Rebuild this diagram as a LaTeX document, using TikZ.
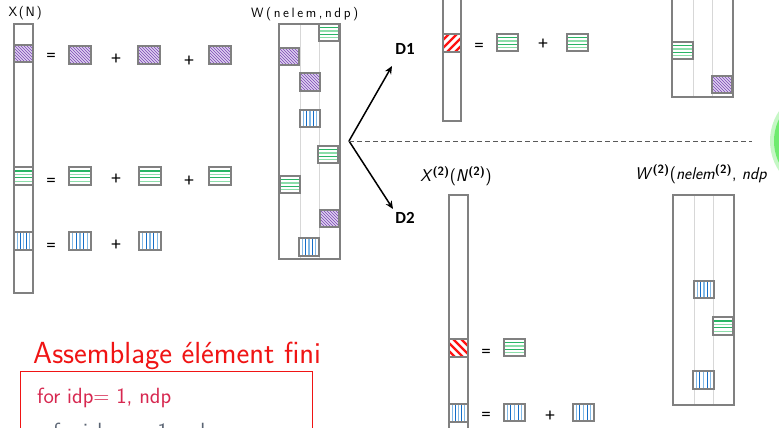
\documentclass[tikz,border=0pt]{standalone}
\usepackage{fontspec}
\newfontfamily\carlito{Carlito}
\usetikzlibrary{arrows.meta}
\def\lsptxt#1#2{\def\lspamt{#1}\lspstep#2\relax}
\def\lspstep#1{\ifx#1\relax\else#1\kern\lspamt\expandafter\lspstep\fi}
\definecolor{cellgray}{RGB}{128,128,128}
\definecolor{innergray}{RGB}{215,215,215}
\definecolor{purpline}{RGB}{140,95,190}
\definecolor{purpfill}{RGB}{236,228,248}
\definecolor{grdark}{RGB}{40,180,100}
\definecolor{grlight}{RGB}{140,222,170}
\definecolor{bldark}{RGB}{20,110,200}
\definecolor{bllight}{RGB}{130,185,230}
\definecolor{hatchred}{RGB}{255,20,20}
\definecolor{titlered}{RGB}{240,20,20}
\definecolor{codered}{RGB}{215,40,80}
\definecolor{codegray}{RGB}{90,100,115}
\definecolor{glowgreen}{RGB}{110,235,110}
\tikzset{
  cellborder/.style={draw=cellgray, line width=1.6pt},
  colborder/.style={draw=cellgray, line width=1.6pt},
  innerline/.style={draw=innergray, line width=0.8pt},
  optxt/.style={font=\carlito\fontsize{19}{21}\selectfont, inner sep=0pt},
  lbltxt/.style={font=\sffamily\fontsize{13.5}{15}\selectfont, inner sep=0pt},
  mlbltxt/.style={font=\sffamily\fontsize{17}{19}\selectfont, inner sep=0pt},
  dlbl/.style={font=\carlito\bfseries\fontsize{17}{20}\selectfont, inner sep=0pt},
  codetxt/.style={font=\sffamily\fontsize{22}{24}\selectfont, inner sep=0pt, anchor=base west},
  pics/purp/.style 2 args={code={
    \begin{scope}
      \clip (0,0) rectangle (#1,#2);
      \fill[purpfill] (0,0) rectangle (#1,#2);
      \foreach \i in {-21,-18,...,24} \draw[purpline, line width=0.8pt] (\i,0) -- ++(#2,#2);
    \end{scope}
    \draw[cellborder] (0,0) rectangle (#1,#2);
  }},
  pics/grn/.style 2 args={code={
    \fill[white] (0,0) rectangle (#1,#2);
    \draw[grdark, line width=1.1pt] (0,{0.22*#2}) -- (#1,{0.22*#2});
    \draw[grlight, line width=1.1pt] (0,{0.41*#2}) -- (#1,{0.41*#2});
    \draw[grdark, line width=1.1pt] (0,{0.6*#2}) -- (#1,{0.6*#2});
    \draw[grlight, line width=1.1pt] (0,{0.79*#2}) -- (#1,{0.79*#2});
    \draw[cellborder] (0,0) rectangle (#1,#2);
  }},
  pics/blu/.style 2 args={code={
    \fill[white] (0,0) rectangle (#1,#2);
    \foreach \f/\c in {0.17/bllight,0.33/bldark,0.5/bllight,0.67/bldark,0.83/bllight}
      \draw[\c, line width=1.1pt] ({\f*#1},0) -- ({\f*#1},#2);
    \draw[cellborder] (0,0) rectangle (#1,#2);
  }},
  pics/redf/.style 2 args={code={
    \begin{scope}
      \clip (0,0) rectangle (#1,#2);
      \fill[white] (0,0) rectangle (#1,#2);
      \foreach \i in {-20,-12,...,28} \draw[hatchred, line width=2.4pt] (\i,#2) -- ++(#2,-#2);
    \end{scope}
    \draw[cellborder] (0,0) rectangle (#1,#2);
  }},
  pics/redb/.style 2 args={code={
    \begin{scope}
      \clip (0,0) rectangle (#1,#2);
      \fill[white] (0,0) rectangle (#1,#2);
      \foreach \i in {-20,-12,...,28} \draw[hatchred, line width=2.4pt] (\i,0) -- ++(#2,#2);
    \end{scope}
    \draw[cellborder] (0,0) rectangle (#1,#2);
  }},
}
\begin{document}
\begin{tikzpicture}[x=1pt,y=-1pt]
\useasboundingbox (0,0) rectangle (779,428);
\fill[white] (0,0) rectangle (779,428);

% glow
\fill[glowgreen!40] (824,141) circle (54);
\fill[glowgreen] (824,141) circle (50);

% ---------- left: X(N)
\node[lbltxt] (lx) at (26,13) {\lsptxt{1.6pt}{X(N)}};
\draw[colborder] (14,24) rectangle (33,293);
\pic at (14,45) {purp={19}{17}};
\pic at (14,167) {grn={19}{18}};
\pic at (14,232) {blu={19}{18}};

\node[optxt] (e1) at (51,57) {=};
\pic at (69,46) {purp={22}{18}};
\node[optxt] (p1a) at (116,59) {+};
\pic at (138,46) {purp={22}{18}};
\node[optxt] (p1b) at (189,61) {+};
\pic at (209,46) {purp={22}{18}};

\node[optxt] (e2) at (51,182) {=};
\pic at (69,167) {grn={22}{18}};
\node[optxt] (p2a) at (116,179) {+};
\pic at (139,167) {grn={22}{18}};
\node[optxt] (p2b) at (189,181) {+};
\pic at (209,167) {grn={22}{18}};

\node[optxt] (e3) at (51,247) {=};
\pic at (69,232) {blu={22}{18}};
\node[optxt] (p3a) at (116,245) {+};
\pic at (139,232) {blu={22}{18}};

% ---------- W(nelem,ndp)
\node[lbltxt] (lw) at (306,14) {\lsptxt{2.6pt}{W(nelem,ndp)}};
\draw[colborder] (279,24) rectangle (340,259);
\draw[innerline] (300,25) -- (300,258);
\draw[innerline] (319,25) -- (319,258);
\pic at (319,24) {grn={20}{17}};
\pic at (279,48) {purp={20}{17}};
\pic at (300,73) {purp={20}{18}};
\pic at (300,110) {blu={20}{17}};
\pic at (318,146) {grn={20}{17}};
\pic at (280,176) {grn={20}{17}};
\pic at (320,210) {purp={19}{17}};
\pic at (299,238) {blu={20}{18}};

% ---------- arrows
\coordinate (o) at (349,141);
\coordinate (d1end) at (392,66);
\coordinate (d2end) at (393,209);
\coordinate (dashend) at (752,141);
\node[dlbl] (d1) at (405,49) {D1};
\node[dlbl] (d2) at (405,218) {D2};
\draw[line width=1.5pt, -{Stealth[length=8pt,width=7pt]}] (o) -- (d1end);
\draw[line width=1.5pt, -{Stealth[length=8pt,width=7pt]}] (o) -- (d2end);
\draw[cellgray!70!black, line width=1pt, dash pattern=on 5pt off 3pt] (o) -- (dashend);

% ---------- D1 part
\draw[colborder] (443,-10) rectangle (461,121);
\pic at (443,34) {redf={18}{18}};
\node[optxt] (e4) at (479,47) {=};
\pic at (497,34) {grn={21}{17}};
\node[optxt] (p4) at (543,44) {+};
\pic at (567,34) {grn={21}{17}};

\draw[colborder] (672,-10) rectangle (733,97);
\draw[innerline] (693,-10) -- (693,96);
\draw[innerline] (712,-10) -- (712,96);
\pic at (672,42) {grn={21}{17}};
\pic at (712,76) {purp={20}{17}};

% ---------- D2 part
\node[mlbltxt] (lx2) at (456,176) {\textit{X}\textsuperscript{\bfseries(2)}(\textit{N}\textsuperscript{\bfseries(2)})};
\draw[colborder] (449,195) rectangle (468,440);
\pic at (449,339) {redb={19}{18}};
\node[optxt] (e5) at (486,353) {=};
\pic at (504,339) {grn={21}{17}};
\pic at (449,404) {blu={19}{18}};
\node[optxt] (e6) at (486,416) {=};
\pic at (504,404) {blu={21}{17}};
\node[optxt] (p6) at (550,416) {+};
\pic at (573,404) {blu={21}{17}};

\node[mlbltxt, anchor=west] (lw2) at (635,174) {\textit{W}\textsuperscript{\bfseries(2)}(\textit{nelem}\textsuperscript{\bfseries(2)}, \textit{ndp}};
\draw[colborder] (673,195) rectangle (734,405);
\draw[innerline] (694,196) -- (694,404);
\draw[innerline] (713,196) -- (713,404);
\pic at (694,281) {blu={20}{17}};
\pic at (713,317) {grn={20}{18}};
\pic at (693,371) {blu={21}{18}};

% ---------- title and code box
\node[font=\sffamily\fontsize{30.5}{34}\selectfont, text=titlered, inner sep=0pt, anchor=base west] (title) at (33,363) {Assemblage élément fini};
\draw[titlered, line width=0.9pt] (20,440) -- (20,371) -- (312,371) -- (312,440);
\node[codetxt, text=codered] (c1) at (37,403) {for idp= 1, ndp};
\node[codetxt, text=codegray] (c2) at (53,438) {for ielem = 1, nelem};
\end{tikzpicture}
\end{document}
